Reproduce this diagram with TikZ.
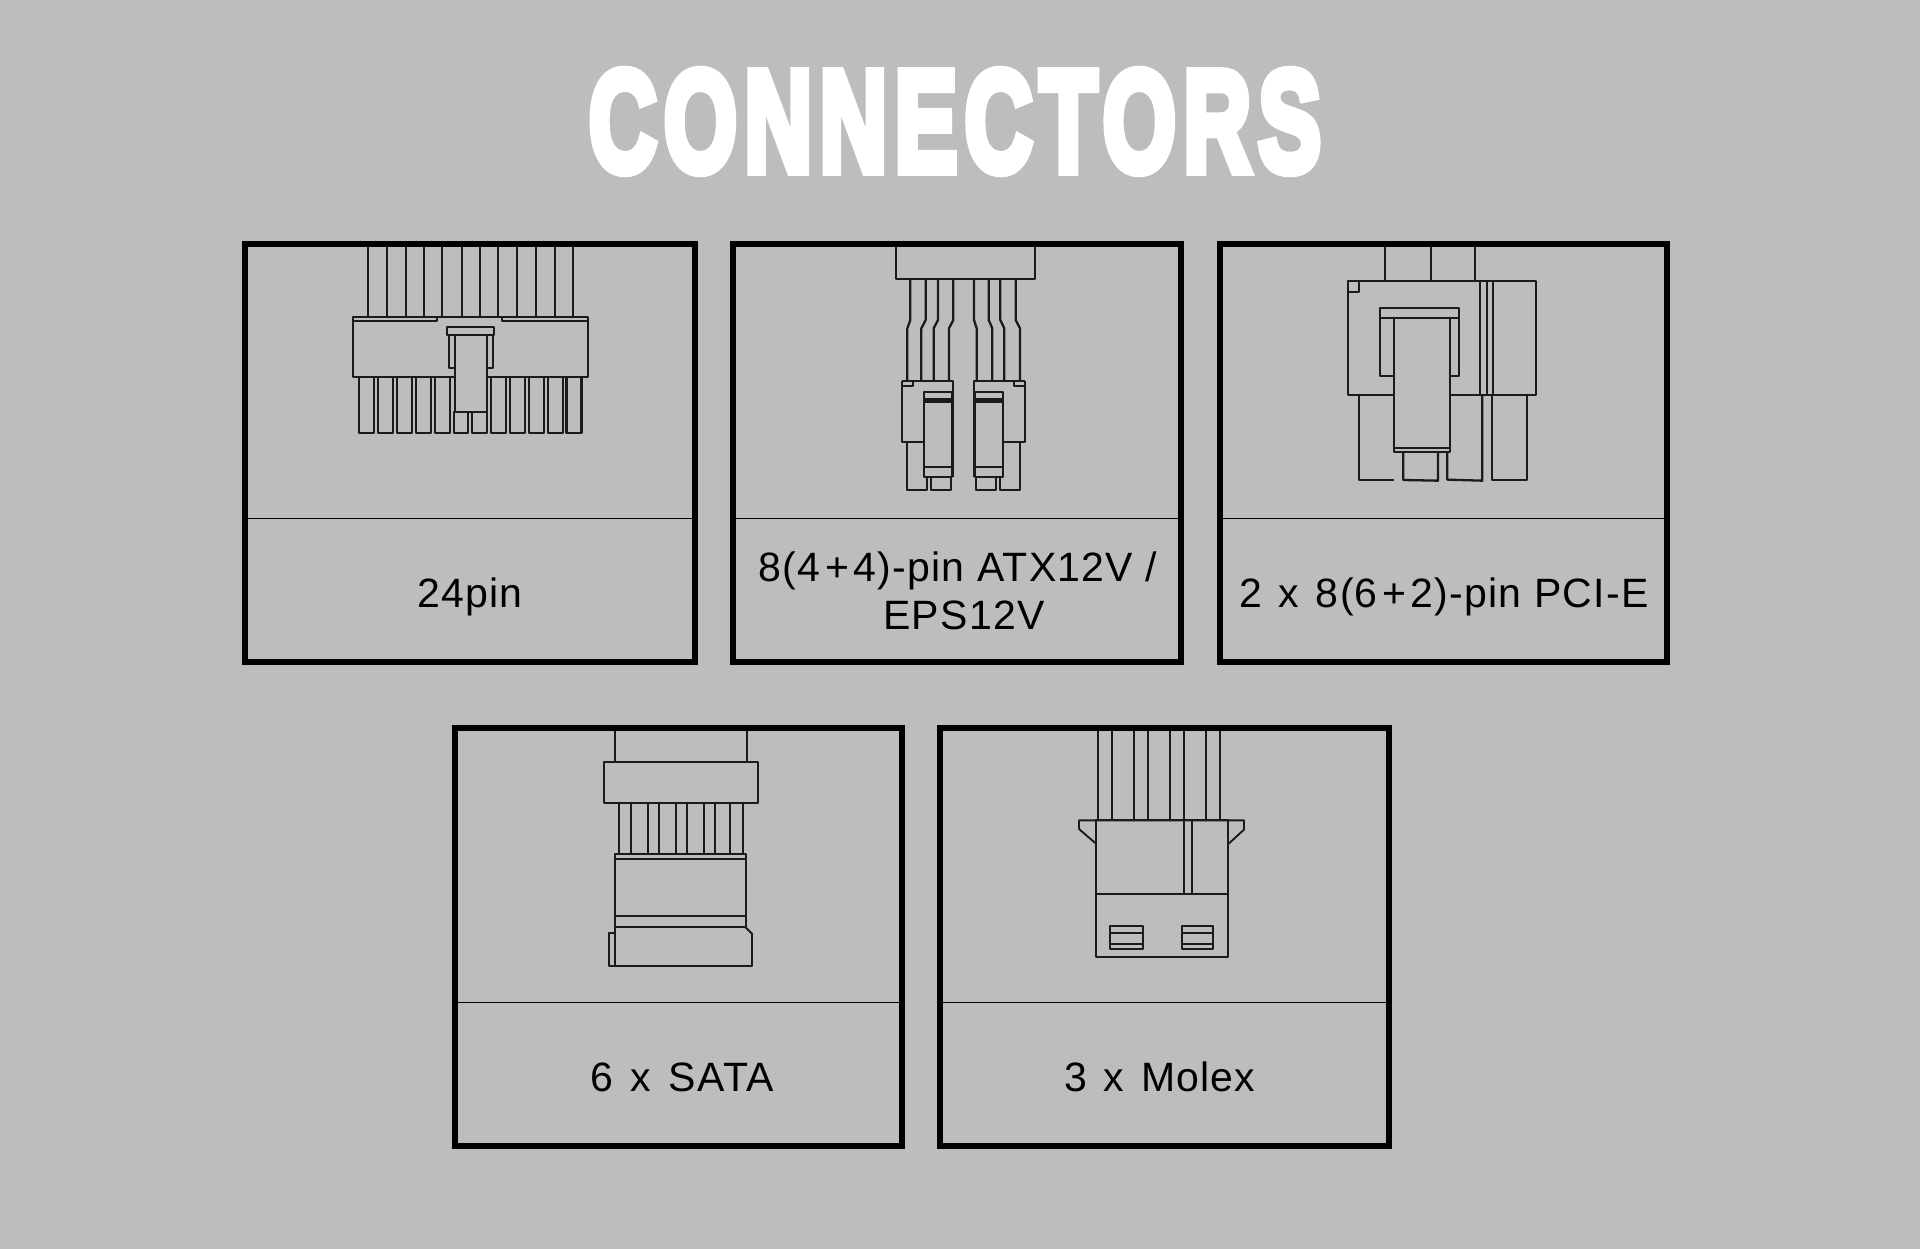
\documentclass[tikz,border=0pt]{standalone}
\usepackage{fontspec}
\usepackage{graphicx}
\setmainfont{Liberation Sans}
\newfontfamily\lblfont{Liberation Sans}[LetterSpace=3]
\newfontfamily\ttlfont{Liberation Sans Bold}[LetterSpace=8,FakeBold=7]
\definecolor{bgc}{HTML}{BDBDBD}
\definecolor{inkc}{HTML}{1E1A1A}
\tikzset{
  panel/.style={draw=black,line width=6pt,line join=miter},
  divider/.style={draw=black,line width=1.5pt},
  lbl/.style={anchor=base,text=black,inner sep=0pt,font=\lblfont\fontsize{41}{41}\selectfont},
  ink/.style={draw=inkc,line width=2.3pt,line join=round},
  inkthin/.style={draw=inkc,line width=1.9pt,line join=round},
  solidf/.style={fill=bgc}
}
\newcommand{\gap}{\kern4.5pt}
\begin{document}
\begin{tikzpicture}[x=1pt,y=-1pt]
\useasboundingbox (0,0) rectangle (1920,1249);
\fill[bgc] (0,0) rectangle (1920,1249);
\node[text=white,inner sep=0pt] (title) at (955,121.5) {\resizebox{732pt}{100pt}{\ttlfont CONNECTORS}};

% ---- connector 1: 24pin
\begin{scope}[shift={(240,240)},scale=1/3]
\foreach \x in {384,442,497,551,606,666,720,775,831,888,944,1000}
  \draw[ink] (\x,15) -- (\x,232);
\foreach \x in {358,414.5,471,527.5,584,753.5,810,866.5,923,979.5}
  \draw[ink] (\x,412) rectangle ++(45,166);
\draw[ink] (641,516) rectangle (685,578);
\draw[ink] (697,516) rectangle (741,578);
\draw[ink,solidf] (338,232) rectangle (1043,412);
\draw[ink] (338,244) -- (592,244) -- (592,232);
\draw[ink] (786,232) -- (786,244) -- (1043,244);
\draw[ink,solidf] (627,284) rectangle (759,384);
\draw[ink,solidf] (622,262) rectangle (763,284);
\draw[ink,solidf] (644,284) rectangle (741,516);
\end{scope}

% ---- connector 2: ATX
\begin{scope}[shift={(840,240)},scale=1/3]
\draw[ink] (168,15) -- (168,116) -- (585,116) -- (585,15);
\foreach \a/\b in {211/202,257/244,294/281,340/327,402/410,446/457,481/493,527/540}
  \draw[ink] (\a,116) -- (\a,240) -- (\b,265) -- (\b,420);
% left half
\draw[ink] (185,422) -- (338,422) -- (338,712);
\draw[ink] (185,422) -- (185,606) -- (250,606);
\draw[ink] (185,439) -- (220,439) -- (220,425);
\draw[ink] (252,456) rectangle (335,712);
\draw[line width=5pt,draw=inkc] (253,481) -- (334,481);
\draw[ink] (253,682) -- (334,682);
\draw[ink] (201,606) -- (201,750) -- (262,750) -- (262,712);
\draw[ink] (272,712) -- (272,750) -- (332,750) -- (332,712);
% right half
\draw[ink] (556,422) -- (403,422) -- (403,712);
\draw[ink] (556,422) -- (556,606) -- (491,606);
\draw[ink] (556,439) -- (521,439) -- (521,425);
\draw[ink] (489,456) rectangle (406,712);
\draw[line width=5pt,draw=inkc] (488,481) -- (407,481);
\draw[ink] (488,682) -- (407,682);
\draw[ink] (540,606) -- (540,750) -- (479,750) -- (479,712);
\draw[ink] (469,712) -- (469,750) -- (409,750) -- (409,712);
\end{scope}

% ---- connector 3: PCI-E
\begin{scope}[shift={(1300,240)},scale=1/3]
\foreach \x in {255,394,526}
  \draw[ink] (\x,15) -- (\x,122);
\draw[ink] (178,464) -- (178,721) -- (283,721);
\draw[ink] (310,636) -- (310,720) -- (414,722) -- (414,636);
\draw[ink] (442,636) -- (442,719) -- (547,722) -- (547,464);
\draw[ink] (576,464) -- (576,721) -- (680,721) -- (680,464);
\draw[ink,solidf] (144,122) rectangle (708,464);
\draw[inkthin] (146,157) -- (177,157) -- (177,122);
\draw[ink] (541,122) -- (541,464);
\draw[inkthin] (561,122) -- (561,464);
\draw[ink] (580,122) -- (580,464);
\draw[ink,solidf] (241,205) rectangle (478,408);
\draw[ink] (241,233) -- (478,233);
\draw[ink,solidf] (283,235) rectangle (449,636);
\draw[ink] (283,624) -- (449,624);
\end{scope}

% ---- connector 4: SATA
\begin{scope}[shift={(580,725)},scale=1/3]
\foreach \x in {105,501}
  \draw[inkthin] (\x,12) -- (\x,111);
\foreach \x in {118,152,204,236,288,320,372,404,450,488}
  \draw[inkthin] (\x,233) -- (\x,388);
\draw[inkthin] (72,111) rectangle (535,233);
\draw[inkthin] (105,388) rectangle (498,607);
\draw[inkthin] (105,402) -- (498,402);
\draw[inkthin] (105,573) -- (498,573);
\draw[inkthin] (105,607) -- (105,723) -- (516,723) -- (516,626) -- (497,607);
\draw[inkthin] (105,625) -- (87,625) -- (87,723) -- (105,723);
\end{scope}

% ---- connector 5: Molex
\begin{scope}[shift={(1060,725)},scale=1/3]
\foreach \x in {114,155,222,263,330,371,438,479}
  \draw[inkthin] (\x,12) -- (\x,286);
\draw[inkthin] (108,356) -- (57,312) -- (57,286) -- (552,286) -- (552,314) -- (506,356);
\draw[inkthin] (108,286) rectangle (505,697);
\draw[inkthin] (108,507) -- (505,507);
\draw[inkthin] (372,286) -- (372,507);
\draw[inkthin] (397,286) -- (397,507);
\draw[ink] (150,604) rectangle (248,673);
\draw[inkthin] (150,625) -- (248,625);
\draw[ink] (150,657) -- (248,657);
\draw[ink] (366,604) rectangle (460,673);
\draw[inkthin] (366,625) -- (460,625);
\draw[ink] (366,657) -- (460,657);
\end{scope}

% ---- panels
\draw[panel] (245,244) rectangle (695,662);
\draw[divider] (248,518.5) -- (692,518.5);
\draw[panel] (733,244) rectangle (1181,662);
\draw[divider] (736,518.5) -- (1178,518.5);
\draw[panel] (1220,244) rectangle (1667,662);
\draw[divider] (1223,518.5) -- (1664,518.5);
\draw[panel] (455,728) rectangle (902,1146);
\draw[divider] (458,1002.5) -- (899,1002.5);
\draw[panel] (940,728) rectangle (1389,1146);
\draw[divider] (943,1002.5) -- (1386,1002.5);

% ---- labels
\node[lbl] (l1) at (470,607) {24pin};
\node[lbl] (l2a) at (958,581) {8(4\gap+\gap4)-pin ATX12V /};
\node[lbl] (l2b) at (964,629) {EPS12V};
\node[lbl] (l3) at (1444,607) {2\kern4pt{} x\kern4pt{} 8(6\gap+\gap2)-pin PCI-E};
\node[lbl] (l4) at (682,1091) {6\kern5pt{} x\kern5pt{} SATA};
\node[lbl] (l5) at (1160,1091) {3\kern4pt{} x\kern4pt{} Molex};
\end{tikzpicture}
\end{document}
